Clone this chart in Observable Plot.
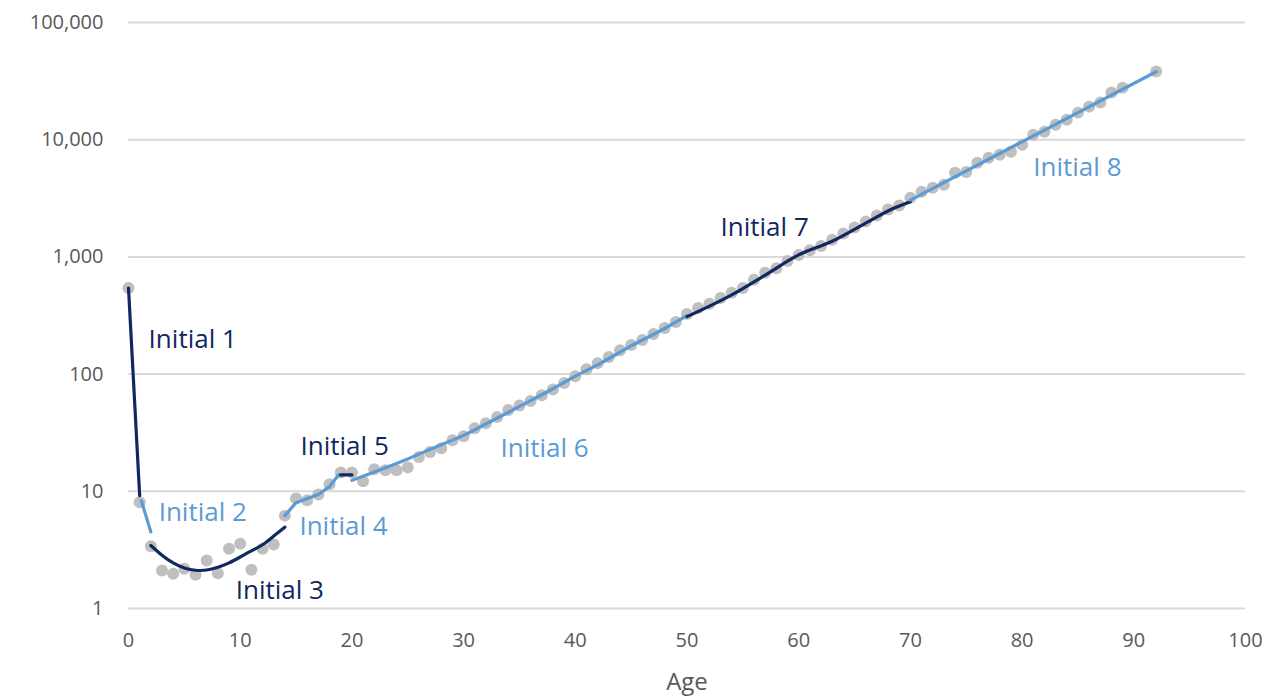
<!DOCTYPE html>
<html>
<head>
<meta charset="utf-8">
<script src="https://cdn.jsdelivr.net/npm/d3@7"></script>
<script src="https://cdn.jsdelivr.net/npm/@observablehq/plot@0.6"></script>
<style>
  html, body { margin: 0; padding: 0; background: #fff; }
  #chart { width: 1275px; height: 697px; }
</style>
</head>
<body>
<div id="chart"></div>
<script>
// Observed rates (grey dots)
const pointAges = [0,1,2,3,4,5,6,7,8,9,10,11,12,13,14,15,16,17,18,19,20,21,22,23,24,25,26,27,28,29,30,31,32,33,34,35,36,37,38,39,40,41,42,43,44,45,46,47,48,49,50,51,52,53,54,55,56,57,58,59,60,61,62,63,64,65,66,67,68,69,70,71,72,73,74,75,76,77,78,79,80,81,82,83,84,85,86,87,88,89,92];
const pointRates = [543,8.05,3.4,2.11,1.98,2.18,1.94,2.57,2.0,3.24,3.57,2.14,3.24,3.52,6.2,8.7,8.4,9.4,11.5,14.5,14.5,12.2,15.4,15.1,15.1,16.0,19.6,21.6,23.3,27.3,29.5,34.5,38,43,49.3,54,59,66,74,84,96,110,124,140,160,177,195,220,247,278,325,366,398,447,495,543,638,733,800,921,1038,1140,1240,1400,1580,1780,2000,2260,2540,2750,3190,3590,3890,4130,5220,5300,6360,7020,7450,7890,9060,11030,11700,13430,14820,17020,19150,20720,25230,27800,38100];

// Fitted curves (one per initial segment)
const fit1Ages = [0, 1];              const fit1 = [543, 9.2];
const fit2Ages = [1.15, 2];           const fit2 = [8.3, 4.5];
const fit3Ages = [2,3,4,5,6,7,8,9,10,11,12,13,14];
const fit3 = [3.45,2.85,2.45,2.22,2.12,2.13,2.25,2.45,2.75,3.1,3.5,4.15,4.95];
const fit4Ages = [14,15,16,17,18,18.8,19]; const fit4 = [6.2,8.0,8.7,9.4,11.0,13.8,13.8];
const fit5Ages = [19, 20];            const fit5 = [13.8, 13.8];
const fit6Ages = [20,22,25,28,30,32,35,38,40,42,45,48,50];
const fit6 = [12.4,14.6,18.9,25,30,37.5,53,75,96,120,174,245,315];
const fit7Ages = [50,54,57,60,63,66,68.5,70];
const fit7 = [309,474,700,1040,1360,1940,2600,2960];
const fit8Ages = [70, 92];            const fit8 = [3050, 38000];

const segmentNames = ["Initial 1","Initial 2","Initial 3","Initial 4","Initial 5","Initial 6","Initial 7","Initial 8"];
const labelAges  = [1.8, 2.7, 9.6, 15.3, 15.4, 33.3, 53, 81];
const labelRates = [195, 6.6, 1.43, 5.0, 24.2, 23.3, 1770, 5760];

const yTicks = [1, 10, 100, 1000, 10000, 100000];
const xTicks = [0,10,20,30,40,50,60,70,80,90,100];
const xTitle = "Age";

const dark = "#10285f";
const light = "#5b9bd5";
const segColors = [dark, light, dark, light, dark, light, dark, light];

const points = pointAges.map((a, i) => ({age: a, rate: pointRates[i]}));
const fits = [[fit1Ages,fit1],[fit2Ages,fit2],[fit3Ages,fit3],[fit4Ages,fit4],[fit5Ages,fit5],[fit6Ages,fit6],[fit7Ages,fit7],[fit8Ages,fit8]]
  .map(([ag, v], k) => ag.map((a, i) => ({age: a, rate: v[i], seg: k})));
const labels = segmentNames.map((n, i) => ({name: n, age: labelAges[i], rate: labelRates[i], color: segColors[i]}));

const chart = Plot.plot({
  width: 1275,
  height: 697,
  marginLeft: 128,
  marginRight: 30,
  marginTop: 22,
  marginBottom: 89,
  style: {fontFamily: "'Open Sans', sans-serif", fontSize: "20px", color: "#595959", background: "#fff"},
  x: {domain: [0, 100], ticks: xTicks, tickSize: 0, tickPadding: 24, label: null},
  y: {type: "log", domain: [1, 100000], ticks: yTicks, tickSize: 0, tickPadding: 25, tickFormat: d3.format(","), label: null},
  marks: [
    Plot.ruleY(yTicks, {stroke: "#d9d9d9", strokeWidth: 2}),
    Plot.dot(points, {x: "age", y: "rate", r: 6, fill: "#bfbfbf", stroke: "none"}),
    ...fits.map((f, k) => Plot.line(f, {x: "age", y: "rate", stroke: segColors[k], strokeWidth: 3.2, curve: k === 2 ? "natural" : (k === 5 || k === 6 ? "monotone-x" : "linear")})),
    Plot.text(labels, {x: "age", y: "rate", text: "name", fill: "color", textAnchor: "start", fontSize: 26}),
    Plot.text([xTitle], {frameAnchor: "bottom", dy: 81, fontSize: 24, fill: "#595959"})
  ]
});
document.getElementById("chart").appendChild(chart);
</script>
</body>
</html>
